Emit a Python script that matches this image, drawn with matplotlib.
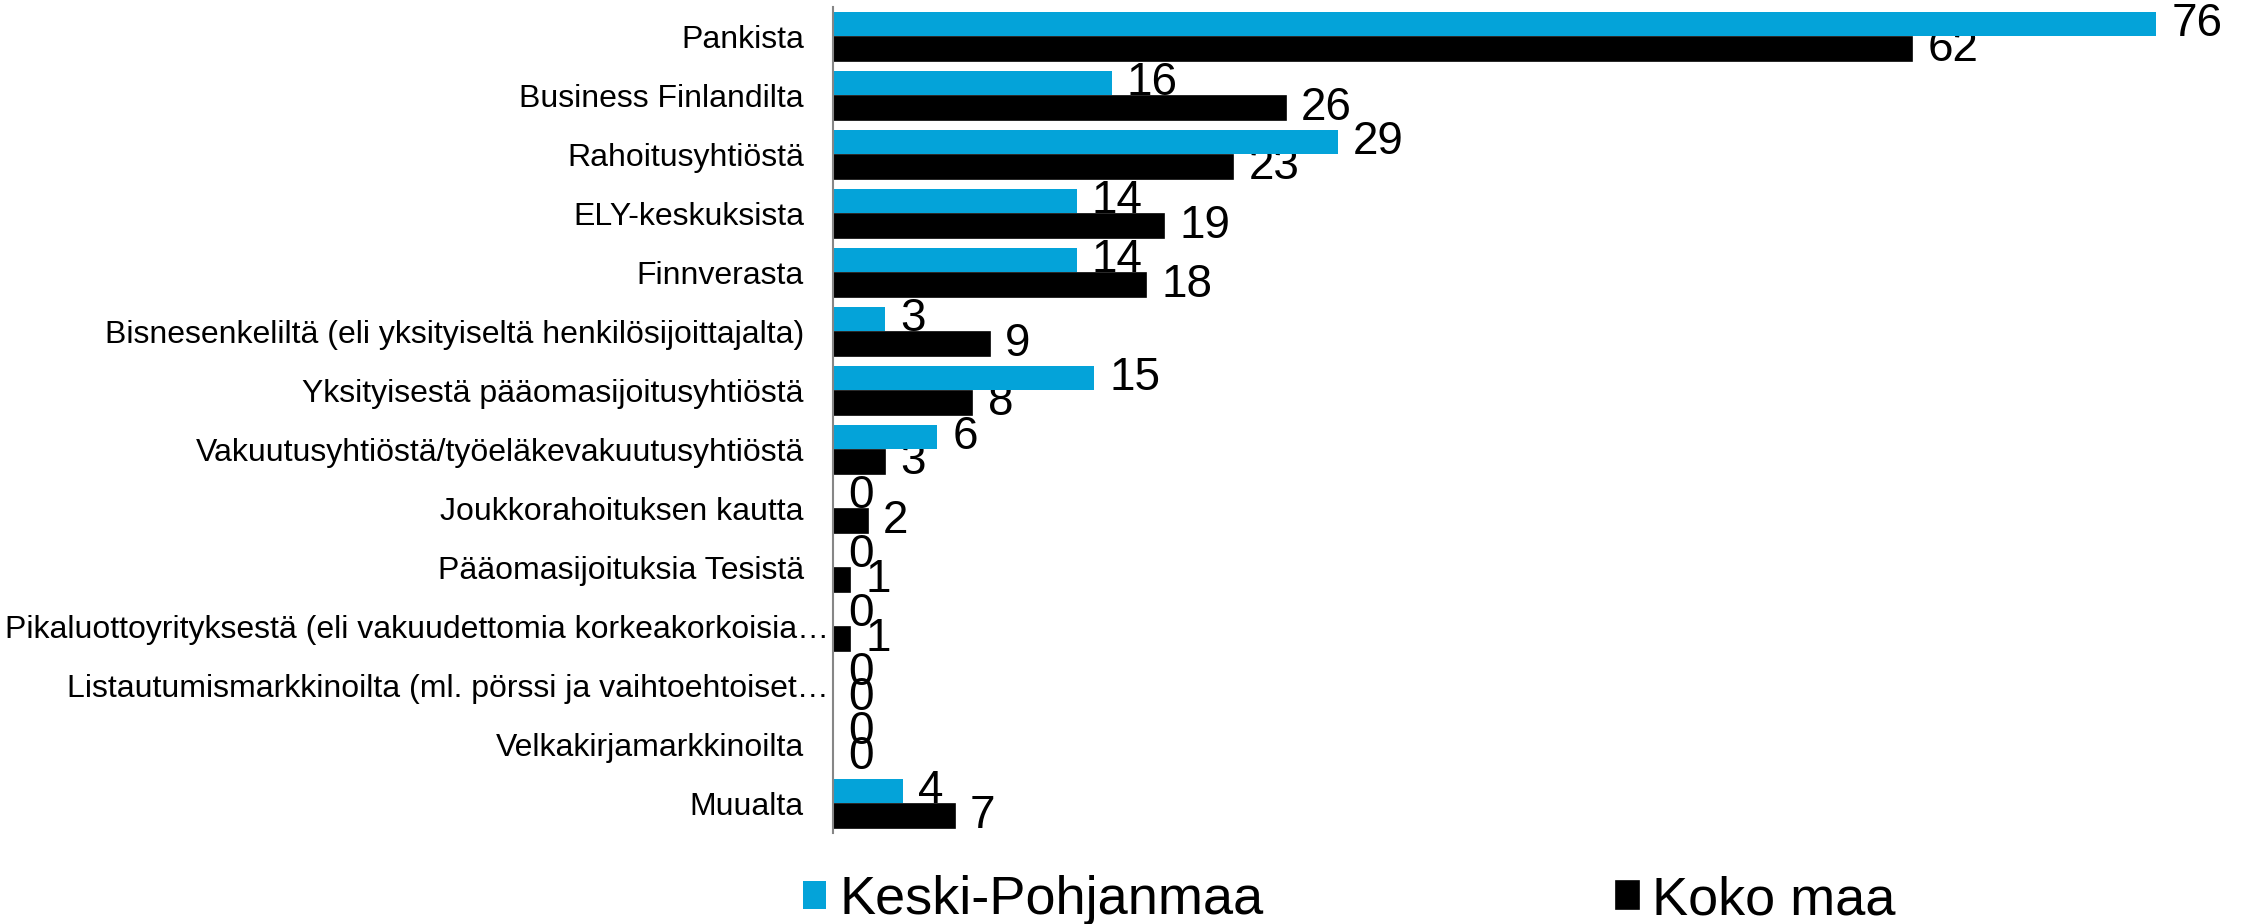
import numpy as np
from matplotlib import pyplot as plt

plt.rcParams['font.family'] = ['Liberation Sans', 'DejaVu Sans']

categories = [
    "Pankista",
    "Business Finlandilta",
    "Rahoitusyhtiöstä",
    "ELY-keskuksista",
    "Finnverasta",
    "Bisnesenkeliltä (eli yksityiseltä henkilösijoittajalta)",
    "Yksityisestä pääomasijoitusyhtiöstä",
    "Vakuutusyhtiöstä/työeläkevakuutusyhtiöstä",
    "Joukkorahoituksen kautta",
    "Pääomasijoituksia Tesistä",
    "Pikaluottoyrityksestä (eli vakuudettomia korkeakorkoisia…",
    "Listautumismarkkinoilta (ml. pörssi ja vaihtoehtoiset…",
    "Velkakirjamarkkinoilta",
    "Muualta",
]
keski_pohjanmaa = [76, 16, 29, 14, 14, 3, 15, 6, 0, 0, 0, 0, 0, 4]
koko_maa = [62, 26, 23, 19, 18, 9, 8, 3, 2, 1, 1, 0, 0, 7]

blue = "#04A3D9"

fig = plt.figure(figsize=(22.5, 9.24), dpi=100)
ax = fig.add_axes([0.3702, 0.0985, 0.619, 0.8939])

y = np.arange(len(categories))
h = 0.41
off = 0.212

b1 = ax.barh(y - off, keski_pohjanmaa, height=h, color=blue, zorder=2,
             label="Keski-Pohjanmaa")
b2 = ax.barh(y + off, koko_maa, height=h, color="black", edgecolor="black",
             linewidth=1.2, zorder=2, label="Koko maa")

ax.bar_label(b1, padding=11, fontsize=33, zorder=1)
ax.bar_label(b2, padding=11, fontsize=33, zorder=1)

ax.set_xlim(0, 80)
ax.set_ylim(len(categories) - 0.5, -0.5)
ax.set_yticks([])
ax.set_xticks([])

# category labels drawn by hand: the truncated ones run up to the axis line
for i, name in enumerate(categories):
    pad = -4 if name.endswith("…") else -29
    ax.annotate(name, xy=(0, i), xycoords=("axes fraction", "data"),
                xytext=(pad, 0), textcoords="offset pixels",
                ha="right", va="center_baseline", fontsize=23,
                annotation_clip=False)

for s in ["top", "right", "bottom"]:
    ax.spines[s].set_visible(False)
ax.spines["left"].set_color("#868686")
ax.spines["left"].set_linewidth(1.5)
ax.spines["left"].set_zorder(3)

fig.legend(handles=[b1, b2], loc="lower left", bbox_to_anchor=(0.335, -0.054),
           ncol=2, frameon=False, fontsize=39, handlelength=0.43,
           handleheight=0.43, handletextpad=0.25, columnspacing=6.5)

fig.savefig("out.png", dpi=100)
